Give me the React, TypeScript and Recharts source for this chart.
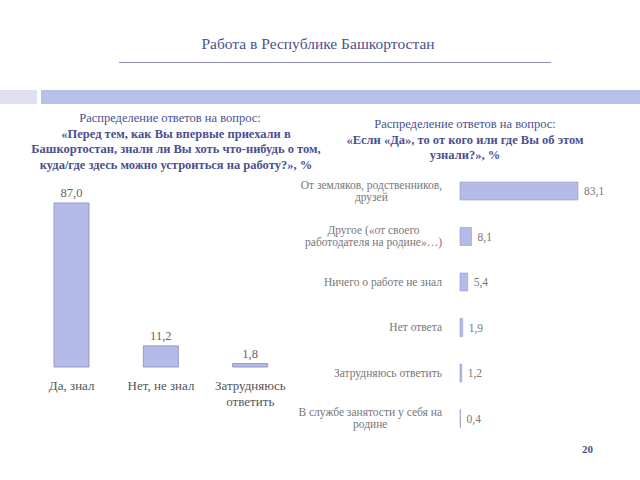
import { BarChart, Bar, XAxis, YAxis, LabelList } from 'recharts';

const leftCategories = ['Да, знал', 'Нет, не знал', 'Затрудняюсь|ответить'];
const leftValues = [87.0, 11.2, 1.8];

const rightCategories = [
  'От земляков, родственников,|друзей',
  'Другое («от своего|работодателя на родине»…)',
  'Ничего о работе не знал',
  'Нет ответа',
  'Затрудняюсь ответить',
  'В службе занятости у себя на|родине',
];
const rightValues = [83.1, 8.1, 5.4, 1.9, 1.2, 0.4];

const leftData = leftCategories.map((name, i) => ({ name, value: leftValues[i] }));
const rightData = rightCategories.map((name, i) => ({ name, value: rightValues[i] }));

const SERIF = 'Times New Roman';
const TITLE_COLOR = '#4b5090';
const BAR_FILL = '#b4bbe8';
const BAR_STROKE = '#939bcb';

const fmt = (v: any) => Number(v).toFixed(1).replace('.', ',');

let ctx: CanvasRenderingContext2D | null = null;
function textWidth(s: string, size: number) {
  if (!ctx) ctx = document.createElement('canvas').getContext('2d');
  if (!ctx) return s.length * size * 0.45;
  ctx.font = `${size}px Times New Roman`;
  return ctx.measureText(s).width;
}

const LeftTick = (props: any) => {
  const { x, y, payload } = props;
  const lines = String(payload.value).split('|');
  return (
    <text x={x} y={y} textAnchor="middle" fill="#555" fontSize={13} fontFamily={SERIF}>
      {lines.map((l, i) => (
        <tspan key={i} x={x} dy={i === 0 ? 15 : 16}>
          {l}
        </tspan>
      ))}
    </text>
  );
};

const RightTick = (props: any) => {
  const { x, y, payload } = props;
  const size = 11.5;
  const lines = String(payload.value).split('|');
  const w = Math.max(...lines.map((l) => textWidth(l, size)));
  const cx = x - 10 - w / 2;
  const startDy = lines.length === 1 ? 4 : -2;
  return (
    <text x={cx} y={y} textAnchor="middle" fill="#777" fontSize={size} fontFamily={SERIF}>
      {lines.map((l, i) => (
        <tspan key={i} x={cx} dy={i === 0 ? startDy : 12}>
          {l}
        </tspan>
      ))}
    </text>
  );
};

export default function App() {
  return (
    <div
      style={{
        position: 'absolute',
        left: 0,
        top: 0,
        width: 640,
        height: 480,
        overflow: 'hidden',
        background: '#fff',
        fontFamily: SERIF,
      }}
    >
      <div
        style={{
          position: 'absolute',
          left: 0,
          width: 640,
          top: 35,
          textAlign: 'center',
          fontSize: 15.5,
          color: TITLE_COLOR,
          transform: 'translateX(-2px)',
        }}
      >
        Работа в Республике Башкортостан
      </div>
      <div style={{ position: 'absolute', left: 119, top: 62, width: 432, height: 1, background: '#8c8fb0' }} />
      <div style={{ position: 'absolute', left: 0, top: 90, width: 37, height: 14, background: '#dfe1f0' }} />
      <div style={{ position: 'absolute', left: 41, top: 90, width: 599, height: 14, background: '#b7c0e8' }} />

      <div
        style={{
          position: 'absolute',
          left: 26,
          width: 300,
          top: 111,
          textAlign: 'center',
          fontSize: 12.5,
          lineHeight: '15.5px',
          color: TITLE_COLOR,
        }}
      >
        <div style={{ transform: 'translateX(-6px)' }}>Распределение ответов на вопрос:</div>
        <div style={{ fontWeight: 'bold' }}>
          «Перед тем, как Вы впервые приехали в
          <br />
          Башкортостан, знали ли Вы хоть что-нибудь о том,
          <br />
          куда/где здесь можно устроиться на работу?», %
        </div>
      </div>

      <div
        style={{
          position: 'absolute',
          left: 330,
          width: 270,
          top: 117,
          textAlign: 'center',
          fontSize: 12.5,
          lineHeight: '15.5px',
          color: TITLE_COLOR,
        }}
      >
        <div>Распределение ответов на вопрос:</div>
        <div style={{ fontWeight: 'bold' }}>
          «Если «Да», то от кого или где Вы об этом
          <br />
          узнали?», %
        </div>
      </div>

      <div style={{ position: 'absolute', left: 0, top: 180 }}>
        <BarChart
          width={300}
          height={240}
          data={leftData}
          margin={{ top: 23, right: 5, left: 27, bottom: 0 }}
          barCategoryGap={27}
        >
          <XAxis
            dataKey="name"
            axisLine={false}
            tickLine={false}
            interval={0}
            height={53}
            tick={<LeftTick />}
          />
          <YAxis hide domain={[0, 87]} />
          <Bar dataKey="value" fill={BAR_FILL} stroke={BAR_STROKE} strokeWidth={1} barSize={35} isAnimationActive={false}>
            <LabelList
              dataKey="value"
              position="top"
              formatter={fmt}
              fill="#666"
              fontSize={12.5}
              fontFamily={SERIF}
              offset={6}
            />
          </Bar>
        </BarChart>
      </div>

      <div style={{ position: 'absolute', left: 280, top: 160 }}>
        <BarChart
          width={360}
          height={290}
          data={rightData}
          layout="vertical"
          margin={{ top: 8, right: 62, left: 0, bottom: 9 }}
        >
          <XAxis type="number" hide domain={[0, 83.1]} />
          <YAxis
            type="category"
            dataKey="name"
            width={180}
            axisLine={false}
            tickLine={false}
            interval={0}
            tick={<RightTick />}
          />
          <Bar dataKey="value" fill={BAR_FILL} stroke={BAR_STROKE} strokeWidth={0.6} barSize={18} isAnimationActive={false}>
            <LabelList
              dataKey="value"
              position="right"
              formatter={fmt}
              fill="#777"
              fontSize={11.5}
              fontFamily={SERIF}
              offset={6}
            />
          </Bar>
        </BarChart>
      </div>

      <div
        style={{
          position: 'absolute',
          left: 582,
          top: 443,
          fontSize: 11,
          fontWeight: 'bold',
          color: TITLE_COLOR,
        }}
      >
        20
      </div>
    </div>
  );
}
